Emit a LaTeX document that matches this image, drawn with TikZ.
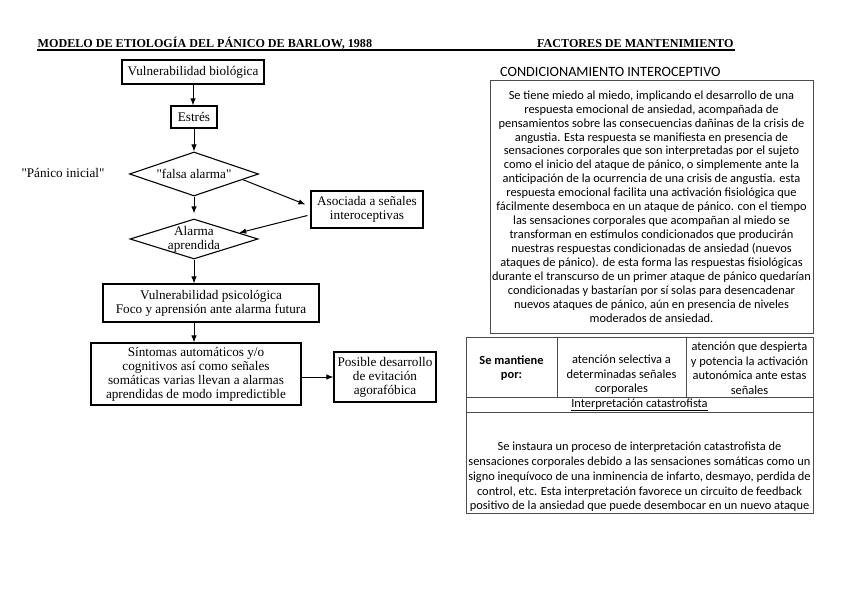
\documentclass[tikz,border=0pt]{standalone}
\usepackage{fontspec}
\setmainfont{Liberation Serif}
\newfontfamily\serifA{Liberation Serif}
\newfontfamily\carl{Carlito}
\usetikzlibrary{arrows.meta,shapes.geometric,calc}
\newcommand\fcfont{\serifA\fontsize{13.2}{14}\selectfont}
\newcommand\rfont{\carl\fontsize{12.4}{13.95}\selectfont}
\newcommand\rbfont{\carl\fontsize{12.4}{14.5}\selectfont}
\newcommand\ttlfont{\serifA\bfseries\fontsize{12.1}{14}\selectfont}
\begin{document}
\begin{tikzpicture}[x=1pt,y=-1pt,
  fbox/.style={draw=black, line width=1.1pt, inner sep=0pt, align=center, font=\fcfont},
  dia/.style={diamond, draw=black, line width=1.1pt, inner sep=0pt, shape aspect=3},
  arr/.style={line width=1pt, -{Latex[length=7pt,width=5.5pt]}},
  gline/.style={draw=gray!60!black, line width=0.8pt},
  rtxt/.style={font=\rfont, align=center, inner sep=0pt},
  btxt/.style={font=\rbfont, align=center, inner sep=0pt}]
\useasboundingbox[fill=white] (0,0) rectangle (848,599);

% titles
\node[anchor=base west, inner sep=0pt, font=\ttlfont] (t1) at (37.5,47.5) {MODELO DE ETIOLOGÍA DEL PÁNICO DE BARLOW, 1988};
\node[anchor=base west, inner sep=0pt, font=\ttlfont] (t2) at (537,47.5) {FACTORES DE MANTENIMIENTO};
\coordinate (ulA) at (37,50);
\coordinate (ulB) at (735,50);
\draw[line width=1.1pt] (ulA) -- (ulB);

% flowchart
\node[fbox, minimum width=142, minimum height=24] (vb) at (193,72) {Vulnerabilidad biológica};
\node[fbox, minimum width=46, minimum height=22] (es) at (194,117) {Estrés};
\node[dia, minimum width=129, minimum height=44, label={[font=\fcfont, inner sep=0pt]center:"falsa alarma"}] (fa) at (194,174) {};
\node[dia, minimum width=128, minimum height=40, label={[font=\fcfont, inner sep=0pt, align=center]center:Alarma\\aprendida}] (aa) at (194,239) {};
\node[fbox, minimum width=112, minimum height=37] (as) at (367,209.5) {Asociada a señales\\interoceptivas};
\node[fbox, minimum width=216, minimum height=38] (vp) at (211,303) {Vulnerabilidad psicológica\\Foco y aprensión ante alarma futura};
\node[fbox, minimum width=210, minimum height=62] (si) at (196,374) {Síntomas automáticos y/o\\cognitivos así como señales\\somáticas varias llevan a alarmas\\aprendidas de modo impredictible};
\node[fbox, minimum width=102, minimum height=50] (po) at (385,377) {Posible desarrollo\\de evitación\\agorafóbica};
\node[font=\fcfont, inner sep=0pt] (pi) at (63,173) {"Pánico inicial"};

\draw[arr] (vb.south) -- (vb.south |- es.north);
\draw[arr] (es.south) -- (es.south |- fa.north);
\draw[arr] (fa.south) -- ($(aa.north)+(0,-5)$);
\draw[arr] ($(fa.east)!0.25!(fa.south)$) -- ($(as.west)+(-5,-5)$);
\draw[arr] ($(as.west)+(-3,6)$) -- ($(aa.east)!0.3!(aa.north)$);
\draw[arr] (aa.south) -- (aa.south |- vp.north);
\draw[arr] (aa.south |- vp.south) -- (aa.south |- si.north);
\draw[arr] (si.east |- po.west) -- (po.west);

% right side
\node[anchor=base west, inner sep=0pt, font=\carl\fontsize{14.2}{16}\selectfont] (ci) at (500,77) {CONDICIONAMIENTO INTEROCEPTIVO};
\node[rtxt, gline, minimum width=323, minimum height=253] (cb) at (651.5,206.5) {Se tiene miedo al miedo, implicando el desarrollo de una\\
respuesta emocional de ansiedad, acompañada de\\
pensamientos sobre las consecuencias dañinas de la crisis de\\
angustia. Esta respuesta se manifiesta en presencia de\\
sensaciones corporales que son interpretadas por el sujeto\\
como el inicio del ataque de pánico, o simplemente ante la\\
anticipación de la ocurrencia de una crisis de angustia. esta\\
respuesta emocional facilita una activación fisiológica que\\
fácilmente desemboca en un ataque de pánico. con el tiempo\\
las sensaciones corporales que acompañan al miedo se\\
transforman en estímulos condicionados que producirán\\
nuestras respuestas condicionadas de ansiedad (nuevos\\
ataques de pánico). de esta forma las respuestas fisiológicas\\
durante el transcurso de un primer ataque de pánico quedarían\\
condicionadas y bastarían por sí solas para desencadenar\\
nuevos ataques de pánico, aún en presencia de niveles\\
moderados de ansiedad.};

% table
\coordinate (tA) at (466,337);
\coordinate (tB) at (813,513);
\draw[gline] (tA) rectangle (tB);
\draw[gline] (466,397) -- (813,397);
\draw[gline] (466,412) -- (813,412);
\draw[gline] (557,337) -- (557,397);
\draw[gline] (686,337) -- (686,397);

\node[btxt] (c1) at (511.5,368) {\bfseries Se mantiene\\\bfseries por:};
\node[btxt] (c2) at (621.5,375) {atención selectiva a\\determinadas señales\\corporales};
\node[btxt] (c3) at (749.5,368) {atención que despierta\\y potencia la activación\\autonómica ante estas\\señales};
\node[btxt] (r2) at (639.5,405) {\underline{Interpretación catastrofista}};
\node[btxt, font=\carl\fontsize{12.4}{14.75}\selectfont] (r3) at (639.5,477) {Se instaura un proceso de interpretación catastrofista de\\
sensaciones corporales debido a las sensaciones somáticas como un\\
signo inequívoco de una inminencia de infarto, desmayo, perdida de\\
control, etc. Esta interpretación favorece un circuito de feedback\\
positivo de la ansiedad que puede desembocar en un nuevo ataque};
\end{tikzpicture}
\end{document}
